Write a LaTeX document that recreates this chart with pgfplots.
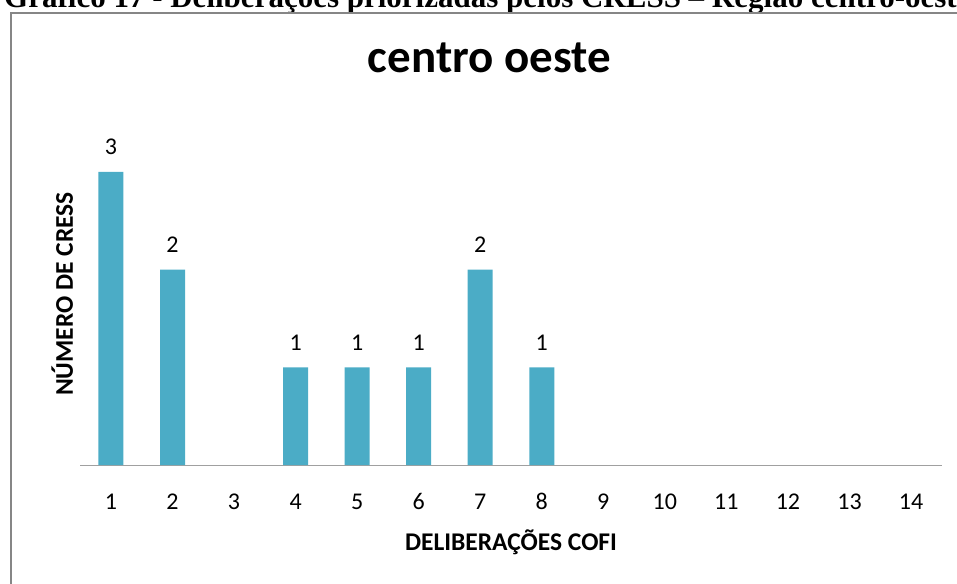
\documentclass[border=0pt]{standalone}
\usepackage{pgfplots}
\pgfplotsset{compat=1.18}
\usepackage{fontspec}
\setmainfont{Carlito}
\newfontfamily\capfont{Liberation Serif}
\definecolor{barblue}{RGB}{75,172,198}
\definecolor{framegray}{RGB}{134,134,134}
\definecolor{axisgray}{RGB}{160,160,160}
\begin{document}
\begin{tikzpicture}[x=1pt,y=1pt]
\useasboundingbox (0,0) rectangle (957,583);
% caption, cut off by the page edge like in the scan
\node[anchor=base west, inner sep=0pt] at (4,575)
  {\capfont\bfseries\fontsize{31}{36}\selectfont Gráfico 17 - Deliberações priorizadas pelos CRESS – Região centro-oeste};
% chart frame
\draw[framegray, line width=2pt] (11,-20) -- (11,570) -- (980,570);
\begin{axis}[
    at={(80.2pt,118pt)}, anchor=origin,
    scale only axis,
    width=861.6pt, height=342pt,
    xmin=0.5, xmax=14.5,
    ymin=0, ymax=3.5,
    ybar, bar width=25pt,
    axis x line*=bottom,
    axis y line*=left,
    y axis line style={draw=none},
    ytick=\empty,
    x axis line style={axisgray, line width=1pt},
    xtick={1,...,14},
    major tick length=0pt,
    /pgf/number format/assume math mode=true,
    xticklabel style={anchor=base, inner sep=0pt, yshift=-44pt,
        font=\fontsize{24}{28}\selectfont},
    nodes near coords,
    every node near coord/.append style={anchor=base, inner sep=0pt, yshift=17pt,
        font=\fontsize{24}{28}\selectfont, black},
    title={centro oeste},
    title style={at={(rel axis cs:0.475,1.13)}, anchor=base,
        font=\bfseries\fontsize{47}{54}\selectfont},
    xlabel={DELIBERAÇÕES COFI},
    xlabel style={at={(rel axis cs:0.5,0)}, anchor=base, yshift=-85pt,
        font=\bfseries\fontsize{25.5}{30}\selectfont},
    ylabel={NÚMERO DE CRESS},
    ylabel style={at={(rel axis cs:-0.0209,0.5)}, anchor=center, rotate=0,
        font=\bfseries\fontsize{25.5}{30}\selectfont},
    clip=false,
]
\addplot[fill=barblue, draw=none] coordinates {(1,3) (2,2) (4,1) (5,1) (6,1) (7,2) (8,1)};
\end{axis}
\end{tikzpicture}
\end{document}
